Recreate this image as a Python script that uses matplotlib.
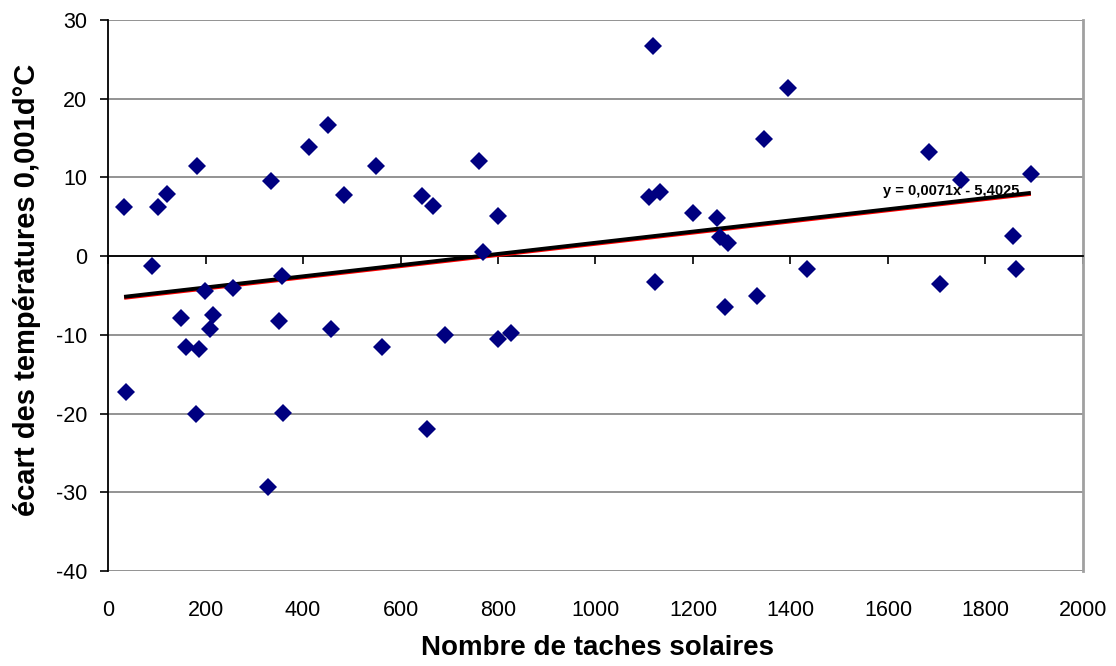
import matplotlib
matplotlib.use("Agg")
import matplotlib.pyplot as plt
import matplotlib.transforms as mtransforms
import numpy as np

# sunspot numbers (x) and temperature gaps (y)
taches = [33, 37, 90, 103, 122, 150, 160, 182, 186, 180, 198, 209, 215, 257,
          329, 334, 350, 356, 358, 412, 451, 457, 485, 550, 562, 645, 654,
          667, 691, 762, 770, 799, 799, 827, 1110, 1117, 1123, 1133, 1199,
          1249, 1255, 1266, 1271, 1331, 1346, 1395, 1434, 1685, 1707, 1749,
          1856, 1863, 1893]
ecarts = [6.3, -17.2, -1.2, 6.3, 7.9, -7.9, -11.5, 11.5, -11.8, -20.0, -4.4,
          -9.2, -7.5, -4.1, -29.3, 9.5, -8.2, -2.5, -19.9, 13.9, 16.6, -9.3,
          7.8, 11.5, -11.6, 7.6, -22.0, 6.4, -10.0, 12.1, 0.5, 5.1, -10.5,
          -9.7, 7.5, 26.7, -3.3, 8.1, 5.5, 4.8, 2.4, -6.5, 1.7, -5.1, 14.9,
          21.4, -1.6, 13.2, -3.6, 9.7, 2.6, -1.6, 10.4]

# trend line coefficients as shown on the chart
pente = 0.0071
origine = -5.4025
equation = "y = 0,0071x - 5,4025"

xticks = [0, 200, 400, 600, 800, 1000, 1200, 1400, 1600, 1800, 2000]
yticks = [-40, -30, -20, -10, 0, 10, 20, 30]

plt.rcParams['font.family'] = ['Liberation Sans', 'DejaVu Sans']
plt.rcParams['axes.unicode_minus'] = False  # plain hyphen like excel

fig = plt.figure(figsize=(11.16, 6.66), dpi=100)
ax = fig.add_axes([0.0968, 0.1426, 0.8736, 0.8274])

ax.set_xlim(0, 2000)
ax.set_ylim(-40, 30)

# horizontal grid, gray like excel
for v in yticks:
    ax.axhline(v, color="#808080", lw=1.2, zorder=1)

# trend line: red under black, shifted a little down
xs = np.array([min(taches), max(taches)])
ys = pente * xs + origine
decale = mtransforms.offset_copy(ax.transData, fig=fig, x=0, y=-0.9, units='dots')
ax.plot(xs, ys, color="red", lw=3.0, transform=decale, zorder=3, solid_capstyle='butt')
ax.plot(xs, ys, color="black", lw=2.8, zorder=4, solid_capstyle='butt')

ax.plot(taches, ecarts, linestyle="none", marker="D", ms=9.5, color="#000080",
        mew=0, zorder=5)

ax.text(1730, 8.3, equation, fontsize=10.5, fontweight="bold", ha="center",
        va="center", zorder=6)

# spines: y axis black at left, x axis black crossing at 0
ax.spines['left'].set_color("black")
ax.spines['left'].set_linewidth(1.3)
ax.spines['bottom'].set_position(('data', 0))
ax.spines['bottom'].set_color("black")
ax.spines['bottom'].set_linewidth(1.3)
ax.spines['right'].set_color("#a0a0a0")
ax.spines['right'].set_linewidth(2)
ax.spines['top'].set_visible(False)

ax.set_yticks(yticks)
ax.tick_params(axis='y', direction='out', length=6, width=1.2, labelsize=15.5, pad=9)
ax.set_xticks(xticks)
ax.tick_params(axis='x', direction='out', length=6, width=1.2, labelbottom=False)

# x tick labels sit at the bottom of the plot, not on the axis
sec = ax.secondary_xaxis('bottom')
sec.set_xticks(xticks)
sec.tick_params(axis='x', length=0, labelsize=15.5, pad=21)
sec.spines['bottom'].set_visible(False)

fig.text(0.5357, 0.027, "Nombre de taches solaires", fontsize=20,
         fontweight="bold", ha="center", va="center")
fig.text(0.024, 0.565, "écart des températures 0,001d°C", fontsize=21,
         fontweight="bold", ha="center", va="center", rotation=90)

fig.savefig("out.png", dpi=100)
